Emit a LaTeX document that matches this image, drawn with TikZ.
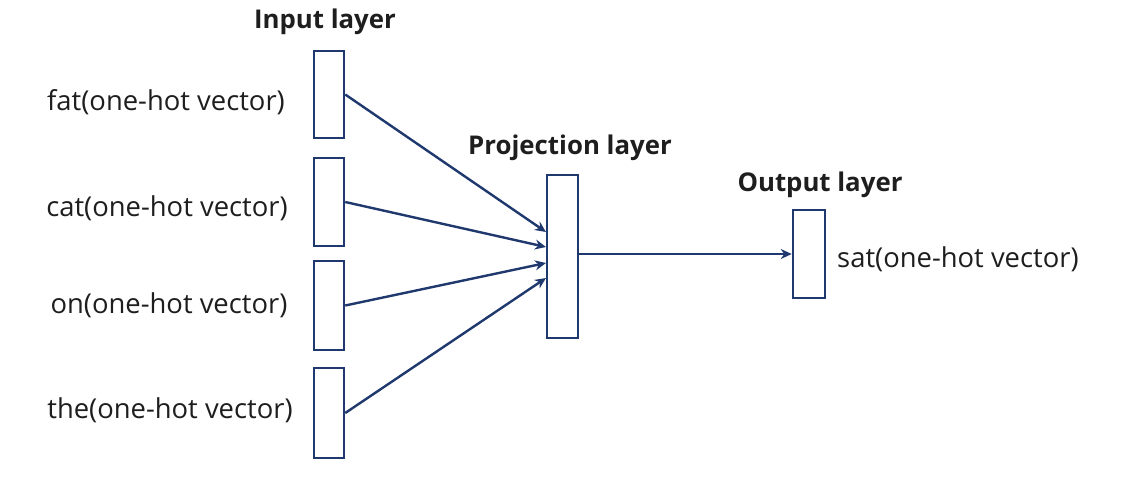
\documentclass[tikz,border=0pt]{standalone}
\usepackage{fontspec}
\setmainfont{Open Sans}
\usetikzlibrary{arrows.meta}
\definecolor{navy}{RGB}{31,56,110}
\definecolor{txt}{RGB}{30,30,30}
\begin{document}
\begin{tikzpicture}[x=1pt,y=-1pt,
  layerbox/.style={draw=navy,line width=2.5pt,fill=white,inner sep=0pt,minimum width=30pt},
  conn/.style={draw=navy,line width=2.4pt,-{Stealth[length=11pt,width=10pt]}},
  lbl/.style={font=\fontsize{27.4}{32}\selectfont,text=txt,inner sep=0pt},
  ttl/.style={font=\bfseries\fontsize{25.8}{30}\selectfont,text=txt,inner sep=0pt}]
\useasboundingbox (0,0) rectangle (1125,488);
% input boxes
\node[layerbox,minimum height=87pt] (i1) at (329,94.5) {};
\node[layerbox,minimum height=88pt] (i2) at (329,202) {};
\node[layerbox,minimum height=89pt] (i3) at (329,305.5) {};
\node[layerbox,minimum height=90pt] (i4) at (329,413) {};
% projection box
\node[layerbox,minimum width=31pt,minimum height=163pt] (p) at (562.5,256.5) {};
% output box
\node[layerbox,minimum width=32pt,minimum height=88pt] (o) at (809,254) {};
% arrow end coordinates on projection box
\coordinate (e1) at (546,232);
\coordinate (e2) at (546,247);
\coordinate (e3) at (546,263);
\coordinate (e4) at (546,278);
\draw[conn] (i1.east) -- (e1);
\draw[conn] (i2.east) -- (e2);
\draw[conn] (i3.east) -- (e3);
\draw[conn] (i4.east) -- (e4);
\draw[conn] (p.east |- o.west) -- (o.west);
% labels
\node[lbl] (l1) at (166,102) {fat(one-hot vector)};
\node[lbl] (l2) at (167,208) {cat(one-hot vector)};
\node[lbl] (l3) at (169,305) {on(one-hot vector)};
\node[lbl] (l4) at (170,410) {the(one-hot vector)};
\node[lbl,anchor=west] (l5) at (837,259) {sat(one-hot vector)};
\node[ttl] (t1) at (325,22) {Input layer};
\node[ttl] (t2) at (570,148) {Projection layer};
\node[ttl] (t3) at (820,185) {Output layer};
\end{tikzpicture}
\end{document}
